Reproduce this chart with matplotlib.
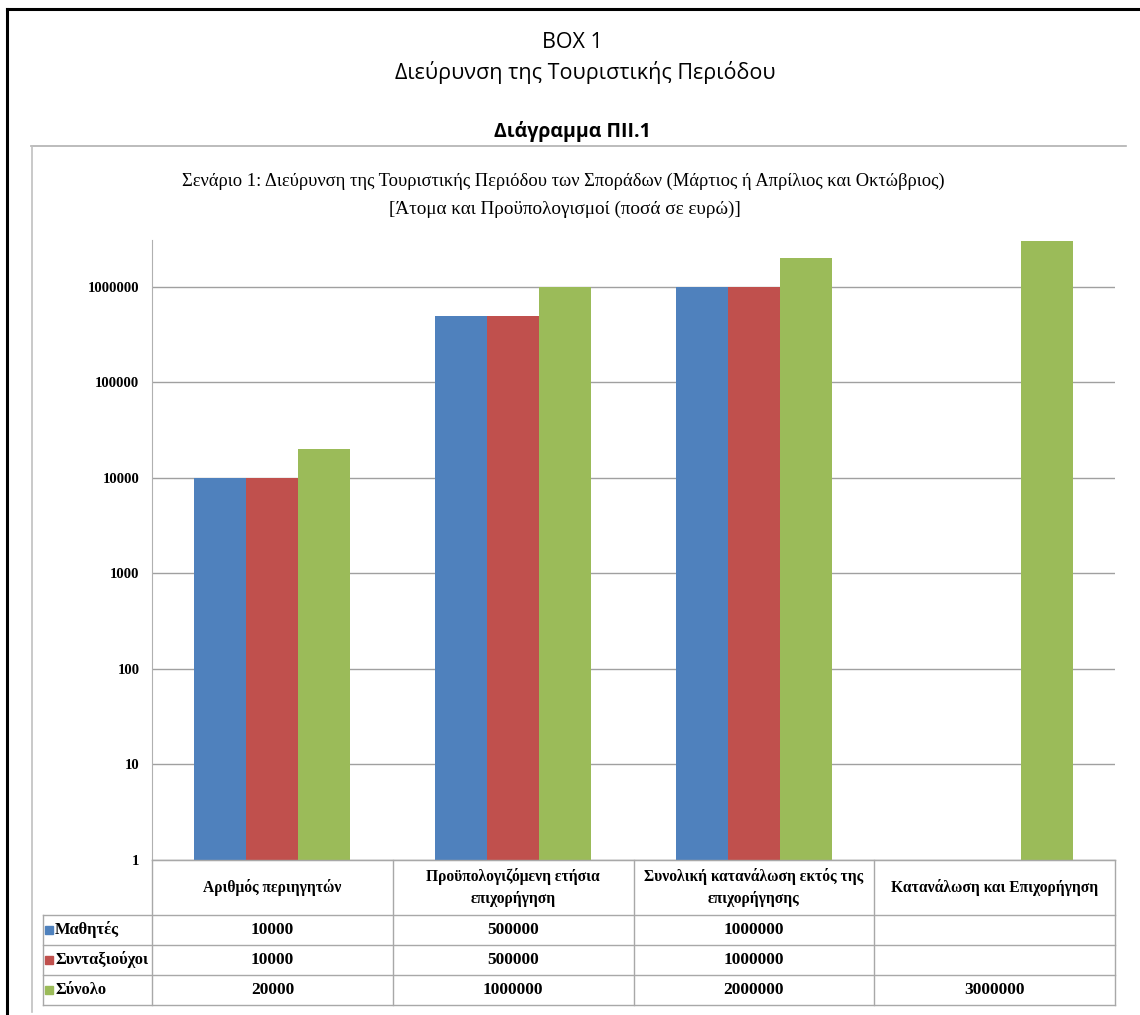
import matplotlib
matplotlib.use("Agg")
import matplotlib.pyplot as plt
from matplotlib.lines import Line2D
from matplotlib.patches import Rectangle
import numpy as np

# data (log scale)
categories = ["Αριθμός περιηγητών",
              "Προϋπολογιζόμενη ετήσια\nεπιχορήγηση",
              "Συνολική κατανάλωση εκτός της\nεπιχορήγησης",
              "Κατανάλωση και Επιχορήγηση"]
series_names = ["Μαθητές", "Συνταξιούχοι", "Σύνολο"]
mathites = [10000, 500000, 1000000, np.nan]
syntaxiouxoi = [10000, 500000, 1000000, np.nan]
synolo = [20000, 1000000, 2000000, 3000000]
yticks = [1, 10, 100, 1000, 10000, 100000, 1000000]

colors = ["#4F81BD", "#C0504D", "#9BBB59"]
W, H = 1140, 1015
serif = "Liberation Serif"
sans = "Open Sans"

def fx(x):
    return x / W

def fy(y):
    return 1 - y / H

fig = plt.figure(figsize=(W / 100, H / 100), dpi=100)
fig.patch.set_facecolor("white")

# outer black box (right / bottom cut off)
fig.add_artist(Line2D([fx(7), fx(W)], [fy(9), fy(9)], color="black", lw=2.2))
fig.add_artist(Line2D([fx(7), fx(7)], [fy(9), fy(H)], color="black", lw=2.2))

# headings above the chart
fig.text(fx(572), fy(42), "BOX 1", ha="center", va="center", fontsize=15.5, family=sans)
fig.text(fx(585), fy(73), "Διεύρυνση της Τουριστικής Περιόδου", ha="center", va="center",
         fontsize=15.5, family=sans)
fig.text(fx(572), fy(131), "Διάγραμμα ΠΙΙ.1", ha="center", va="center",
         fontsize=14, family=sans, fontweight="bold")

# chart area frame (only top and left edges show)
fig.add_artist(Line2D([fx(31), fx(1126)], [fy(146), fy(146)], color="#b0b0b0", lw=1.2))
fig.add_artist(Line2D([fx(32), fx(32)], [fy(146), fy(1012)], color="#c0c0c0", lw=1.2))

fig.text(fx(563), fy(181),
         "Σενάριο 1: Διεύρυνση της Τουριστικής Περιόδου των Σποράδων (Μάρτιος ή Απρίλιος και Οκτώβριος)",
         ha="center", va="center", fontsize=13.3, family=serif)
fig.text(fx(565), fy(209), "[Άτομα και Προϋπολογισμοί (ποσά σε ευρώ)]",
         ha="center", va="center", fontsize=13.8, family=serif)

# plot area
px0, px1, py0, py1 = 152, 1115, 240, 860
ax = fig.add_axes([fx(px0), fy(py1), fx(px1 - px0), (py1 - py0) / H])
ax.set_yscale("log")
ax.set_ylim(1, 3.1e6)
ax.set_xlim(-0.5, len(categories) - 0.5)

x = np.arange(len(categories))
bw = 0.216
for i, (vals, c) in enumerate(zip([mathites, syntaxiouxoi, synolo], colors)):
    v = np.array(vals, dtype=float)
    ax.bar(x + (i - 1) * bw, v, width=bw, color=c, zorder=3, label=series_names[i])

ax.set_yticks(yticks)
ax.set_yticklabels([str(t) for t in yticks], family=serif, fontweight="bold", fontsize=10.6)
ax.minorticks_off()
ax.tick_params(axis="y", length=0, pad=9)
ax.set_xticks([])
ax.grid(axis="y", color="#a0a0a0", lw=1.0, zorder=0)
for s in ["top", "right"]:
    ax.spines[s].set_visible(False)
ax.spines["left"].set_color("#b0b0b0")
ax.spines["bottom"].set_color("#b0b0b0")

# data table under the plot
lc = "#a8a8a8"
col_w = (px1 - px0) / len(categories)
col_edges = [px0 + k * col_w for k in range(len(categories) + 1)]
row_edges = [860, 915, 945, 975, 1005]
lab_x0 = 43

def hline(x0, x1, y):
    fig.add_artist(Line2D([fx(x0), fx(x1)], [fy(y), fy(y)], color=lc, lw=1.0))

def vline(x, y0, y1):
    fig.add_artist(Line2D([fx(x), fx(x)], [fy(y0), fy(y1)], color=lc, lw=1.0))

hline(px0, px1, row_edges[0])
for y in row_edges[1:]:
    hline(lab_x0, px1, y)
vline(lab_x0, row_edges[1], row_edges[-1])
for xe in col_edges:
    vline(xe, row_edges[0], row_edges[-1])

for k, cat in enumerate(categories):
    cx = (col_edges[k] + col_edges[k + 1]) / 2
    fig.text(fx(cx), fy((row_edges[0] + row_edges[1]) / 2), cat, ha="center", va="center",
             fontsize=11.2, family=serif, fontweight="bold", linespacing=1.5)

for r, (name, vals, c) in enumerate(zip(series_names, [mathites, syntaxiouxoi, synolo], colors)):
    cy = (row_edges[r + 1] + row_edges[r + 2]) / 2
    fig.add_artist(Rectangle((fx(45), fy(cy + 4)), 8 / W, 8 / H, color=c))
    fig.text(fx(55), fy(cy), name, ha="left", va="center", fontsize=11.8,
             family=serif, fontweight="bold")
    for k, v in enumerate(vals):
        if np.isnan(v):
            continue
        cx = (col_edges[k] + col_edges[k + 1]) / 2
        fig.text(fx(cx), fy(cy), f"{int(v)}", ha="center", va="center", fontsize=12.5,
                 family=serif, fontweight="bold")

fig.savefig("out.png", dpi=100)
